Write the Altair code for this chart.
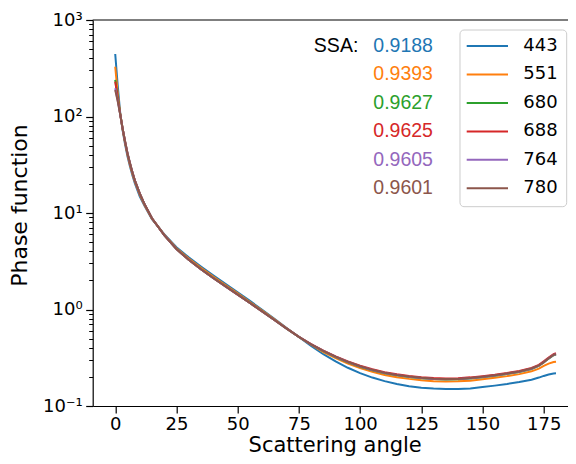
import altair as alt
import pandas as pd

# ---------------- data ----------------
angles = [0, 1, 2, 3, 4, 5, 6, 7, 8, 10, 12, 15, 20, 25, 30, 35, 40, 45, 50, 55, 60,
          65, 70, 75, 80, 85, 90, 95, 100, 105, 110, 115, 120, 125, 130, 135, 140,
          145, 150, 155, 160, 165, 170, 173, 175, 177, 179, 180]

wavelengths = ["443", "551", "680", "688", "764", "780"]
ssa_values = ["0.9188", "0.9393", "0.9627", "0.9625", "0.9605", "0.9601"]

p443 = [444, 212, 111.2, 72.3, 51.8, 38.8, 30.5, 24.7, 20.4, 14.9, 11.8, 8.63, 6.03, 4.42,
        3.47, 2.79, 2.265, 1.849, 1.510, 1.227, 0.993, 0.800, 0.643, 0.518, 0.419, 0.344,
        0.290, 0.249, 0.219, 0.197, 0.181, 0.1687, 0.160, 0.155, 0.1514, 0.1496, 0.1496,
        0.152, 0.157, 0.1626, 0.169, 0.177, 0.1875, 0.197, 0.205, 0.212, 0.217, 0.218]
p551 = [328, 175, 108.4, 74.0, 53.6, 40.2, 31.7, 25.6, 21.1, 15.5, 12.05, 8.73, 5.96, 4.32,
        3.37, 2.70, 2.19, 1.795, 1.469, 1.197, 0.973, 0.789, 0.638, 0.519, 0.431, 0.361,
        0.314, 0.276, 0.247, 0.2265, 0.210, 0.199, 0.191, 0.185, 0.181, 0.1795, 0.180,
        0.183, 0.189, 0.196, 0.204, 0.214, 0.2286, 0.244, 0.260, 0.275, 0.285, 0.287]
p680 = [240, 160, 107, 75.5, 55.3, 41.5, 32.8, 26.4, 21.8, 15.95, 12.28, 8.82, 5.90, 4.23,
        3.28, 2.62, 2.13, 1.745, 1.432, 1.171, 0.955, 0.779, 0.634, 0.520, 0.434, 0.370,
        0.322, 0.284, 0.255, 0.235, 0.219, 0.208, 0.200, 0.194, 0.190, 0.1885, 0.189,
        0.193, 0.199, 0.206, 0.215, 0.225, 0.242, 0.260, 0.282, 0.310, 0.336, 0.342]
p688 = [230, 156, 107, 75.6, 55.4, 41.55, 32.85, 26.45, 21.8, 15.97, 12.29, 8.82, 5.89, 4.22,
        3.27, 2.61, 2.12, 1.74, 1.428, 1.168, 0.954, 0.779, 0.635, 0.522, 0.437, 0.375,
        0.327, 0.290, 0.261, 0.240, 0.224, 0.213, 0.205, 0.199, 0.195, 0.193, 0.194,
        0.198, 0.204, 0.211, 0.220, 0.231, 0.248, 0.267, 0.290, 0.318, 0.345, 0.352]
p764 = [196, 147, 106, 75.6, 55.4, 41.6, 32.9, 26.5, 21.8, 16.0, 12.3, 8.83, 5.89, 4.22,
        3.27, 2.61, 2.12, 1.738, 1.426, 1.167, 0.953, 0.778, 0.633, 0.520, 0.435, 0.372,
        0.324, 0.286, 0.257, 0.236, 0.220, 0.209, 0.201, 0.195, 0.191, 0.1895, 0.190,
        0.194, 0.200, 0.207, 0.216, 0.226, 0.243, 0.262, 0.284, 0.312, 0.338, 0.344]
p780 = [188, 144.5, 105.9, 75.7, 55.5, 41.6, 32.9, 26.5, 21.8, 16.0, 12.3, 8.83, 5.89, 4.22,
        3.27, 2.61, 2.12, 1.738, 1.426, 1.167, 0.953, 0.778, 0.634, 0.521, 0.436, 0.373,
        0.325, 0.287, 0.258, 0.237, 0.221, 0.210, 0.202, 0.196, 0.192, 0.1905, 0.191,
        0.195, 0.201, 0.208, 0.217, 0.2275, 0.2445, 0.263, 0.285, 0.313, 0.339, 0.345]

colors = ["#1f77b4", "#ff7f0e", "#2ca02c", "#d62728", "#9467bd", "#8c564b"]
x_ticks = [0, 25, 50, 75, 100, 125, 150, 175]
y_major = [0.1, 1, 10, 100, 1000]
y_minor = [0.2, 0.3, 0.4, 0.5, 0.6, 0.7, 0.8, 0.9,
           2, 3, 4, 5, 6, 7, 8, 9,
           20, 30, 40, 50, 60, 70, 80, 90,
           200, 300, 400, 500, 600, 700, 800, 900]

series = {"443": p443, "551": p551, "680": p680, "688": p688, "764": p764, "780": p780}
rows = []
for wl in wavelengths:
    for a, v in zip(angles, series[wl]):
        rows.append({"angle": a, "value": v, "wl": wl})
df = pd.DataFrame(rows)
leg_df = pd.DataFrame({"wl": wavelengths, "ssa": ssa_values})

# ---------------- layout ----------------
W, H = 475.3, 386
FONT = "DejaVu Sans"

xscale = alt.Scale(domain=[-9.2, 184.9], nice=False, zero=False)
yscale = alt.Scale(type="log", domain=[0.1, 1000], nice=False)
color = alt.Color("wl:N", scale=alt.Scale(domain=wavelengths, range=colors), legend=None)
rowscale = alt.Scale(type="point", domain=wavelengths, range=[26, 168.3], padding=0)

label_expr = ("datum.value >= 999 ? '10³' : datum.value >= 99 ? '10²' : "
              "datum.value >= 9 ? '10¹' : datum.value >= 0.9 ? '10⁰' : '10⁻¹'")

common_axis = dict(domainColor="black", domainWidth=1.2, tickColor="black", tickWidth=1.2,
                   labelColor="black", labelFont=FONT, labelFontSize=18, grid=False,
                   labelFlush=False, labelOverlap=False, titleFont=FONT,
                   titleFontWeight="normal", titleColor="black")

lines = alt.Chart(df).mark_line(strokeWidth=2, clip=True).encode(
    x=alt.X("angle:Q", scale=xscale,
            axis=alt.Axis(values=x_ticks, title="Scattering angle", tickSize=7,
                          labelPadding=2.5, titleX=242, titleY=45.5, titleAlign="center",
                          titleBaseline="alphabetic", titleFontSize=21, **common_axis)),
    y=alt.Y("value:Q", scale=yscale,
            axis=alt.Axis(values=y_major, labelExpr=label_expr, title="Phase function",
                          tickSize=7, labelPadding=3.5, orient="left", offset=0,
                          titleX=-66.4, titleY=185, titleAlign="center",
                          titleBaseline="alphabetic", titleAngle=270, titleFontSize=22,
                          **common_axis)),
    color=color,
)

minor = alt.Chart(df).mark_point(opacity=0).encode(
    y=alt.Y("value:Q", scale=yscale,
            axis=alt.Axis(values=y_minor, labels=False, tickSize=4, tickWidth=1,
                          tickColor="black", domain=False, title=None, grid=False,
                          orient="left", offset=0)),
)

box = alt.Chart(pd.DataFrame({"k": [0]})).mark_rect(
    cornerRadius=4, stroke="#cccccc", strokeWidth=1, fill="white", fillOpacity=0.8
).encode(x=alt.value(367.3), x2=alt.value(474), y=alt.value(10), y2=alt.value(186.7))

leg_lines = alt.Chart(leg_df).mark_rule(strokeWidth=2).encode(
    x=alt.value(374), x2=alt.value(415.3),
    y=alt.Y("wl:N", scale=rowscale, axis=None),
    color=color,
)

leg_labels = alt.Chart(leg_df).mark_text(
    align="left", baseline="middle", font=FONT, fontSize=18, color="black"
).encode(x=alt.value(430.6), y=alt.Y("wl:N", scale=rowscale, axis=None), text="wl:N")

ssa_text = alt.Chart(leg_df).mark_text(
    align="left", baseline="middle", font="Liberation Sans", fontSize=19.5
).encode(x=alt.value(280.6), y=alt.Y("wl:N", scale=rowscale, axis=None),
         text="ssa:N", color=color)

ssa_label = alt.Chart(pd.DataFrame({"t": ["SSA:"]})).mark_text(
    align="right", baseline="middle", font="Liberation Sans", fontSize=19.5, color="black"
).encode(x=alt.value(265.6), y=alt.value(26), text="t:N")

spine = alt.Chart(pd.DataFrame({"k": [0]})).mark_rule(color="black", strokeWidth=1.2).encode(
    x=alt.value(0), x2=alt.value(W), y=alt.value(0))

chart = alt.layer(
    lines, minor, box, leg_lines, leg_labels, ssa_text, ssa_label, spine
).resolve_scale(y="independent").properties(
    width=W, height=H, autosize="none",
    padding={"left": 84.7, "top": 12, "right": 0, "bottom": 50},
).configure_view(stroke=None)

chart.save("out.html", embed_options={"renderer": "svg", "actions": False})
